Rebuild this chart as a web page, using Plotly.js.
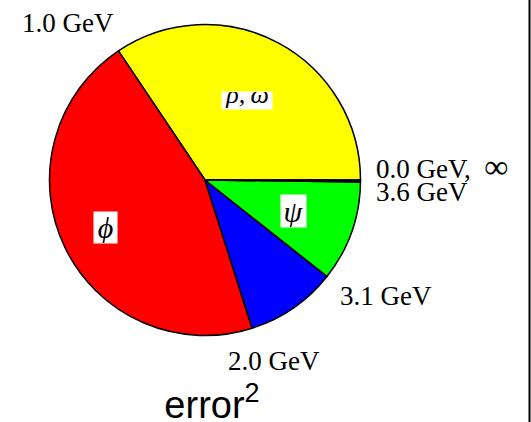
<!DOCTYPE html>
<html>
<head>
<meta charset="utf-8">
<script src="https://cdn.plot.ly/plotly-3.0.1.min.js"></script>
<style>html,body{margin:0;padding:0;background:#fff;}#chart{width:531px;height:422px;}</style>
</head>
<body>
<div id="chart"></div>
<script>
// ---- data ----
const massRanges = ['0.0–1.0 GeV', '1.0–2.0 GeV', '2.0–3.1 GeV', '3.1–3.6 GeV', '3.6 GeV–∞'];
const sliceLabels = ['ρ,\u2009ω', 'ϕ', '', 'ψ', ''];
const errorSquared = [34.4, 45.5, 9.45, 10.45, 0.2];
const boundaryLabels = ['0.0 GeV,\u2002<span style="font-size:34px">∞</span>', '1.0 GeV', '2.0 GeV', '3.1 GeV', '3.6 GeV'];
const sliceColors = ['#ffff00', '#ff0000', '#0000ff', '#00ff00', '#000000'];

// ---- styling / geometry ----
const W = 531, H = 422;
const cx = 205, cy = 180, R = 155.5;
const serif = 'Liberation Serif, Times New Roman, serif';
// per-boundary label placement (anchor side and pixel nudges)
const bStyle = [
  {xanchor: 'left',  dx: -2,  dy: 13},
  {xanchor: 'right', dx: 6,   dy: 14.5},
  {xanchor: 'left',  dx: -31, dy: -18},
  {xanchor: 'left',  dx: -1,  dy: -10},
  {xanchor: 'left',  dx: -2,  dy: -10}
];
// per-slice inner label placement
const inK = [0.58, 0.71, 0, 0.605, 0];
const inW = [50, 23, 0, 25, 0];
const inH = [17, 31, 0, 32, 0];
const inSize = [26, 30, 26, 30, 26];
const inValign = ['bottom', 'middle', 'middle', 'middle', 'middle'];

const total = errorSquared.reduce((a, b) => a + b, 0);
const px2x = x => x / W;
const px2y = y => 1 - y / H;
const pt = (deg, k) => {
  const a = deg * Math.PI / 180;
  return [cx + k * R * Math.cos(a), cy - k * R * Math.sin(a)];
};

const annotations = [];
let cum = 0;
errorSquared.forEach((v, i) => {
  const startDeg = 360 * cum / total;
  const endDeg = 360 * (cum + v) / total;
  // boundary label at the start of the slice
  const [bx, by] = pt(startDeg, 1.1);
  const s = bStyle[i];
  annotations.push({
    xref: 'paper', yref: 'paper', x: px2x(bx), y: px2y(by),
    xanchor: s.xanchor, yanchor: 'middle', xshift: s.dx, yshift: s.dy,
    text: boundaryLabels[i], showarrow: false,
    font: {family: serif, size: 27, color: '#000'}
  });
  if (sliceLabels[i]) {
    const [lx, ly] = pt((startDeg + endDeg) / 2, inK[i]);
    annotations.push({
      xref: 'paper', yref: 'paper', x: px2x(lx), y: px2y(ly),
      xanchor: 'center', yanchor: 'middle',
      text: '<i>' + sliceLabels[i] + '</i>', showarrow: false,
      width: inW[i], height: inH[i], valign: inValign[i], borderpad: 0,
      bgcolor: '#ffffff',
      font: {family: serif, size: inSize[i], color: '#000'}
    });
  }
  cum += v;
});

// Plotly (counterclockwise) ends the first slice at the rotation angle;
// we want the first slice to start at 3 o'clock.
const rotation = 90 - 360 * errorSquared[0] / total;

const trace = {
  type: 'pie',
  values: errorSquared,
  labels: massRanges,
  sort: false,
  direction: 'counterclockwise',
  rotation: rotation,
  textinfo: 'none',
  hoverinfo: 'label+value',
  marker: {colors: sliceColors, line: {color: '#000', width: 1.5}},
  domain: {x: [px2x(cx - R), px2x(cx + R)], y: [px2y(cy + R), px2y(cy - R)]},
  showlegend: false
};

const layout = {
  width: W, height: H,
  margin: {l: 0, r: 0, t: 0, b: 0, pad: 0},
  paper_bgcolor: '#fff', plot_bgcolor: '#fff',
  showlegend: false,
  title: {
    text: 'error<sup><span style="font-size:27px">2</span></sup>',
    font: {family: 'Liberation Sans, Arial, sans-serif', size: 38, color: '#000'},
    xref: 'paper', yref: 'paper', x: 212 / W, xanchor: 'center',
    y: 4 / H, yanchor: 'bottom'
  },
  annotations: annotations,
  shapes: [{type: 'line', xref: 'paper', yref: 'paper', x0: 529.5 / W, x1: 529.5 / W, y0: 0, y1: 1,
            line: {color: '#000', width: 2}}]
};

Plotly.newPlot('chart', [trace], layout, {displayModeBar: false, staticPlot: true});
</script>
</body>
</html>
